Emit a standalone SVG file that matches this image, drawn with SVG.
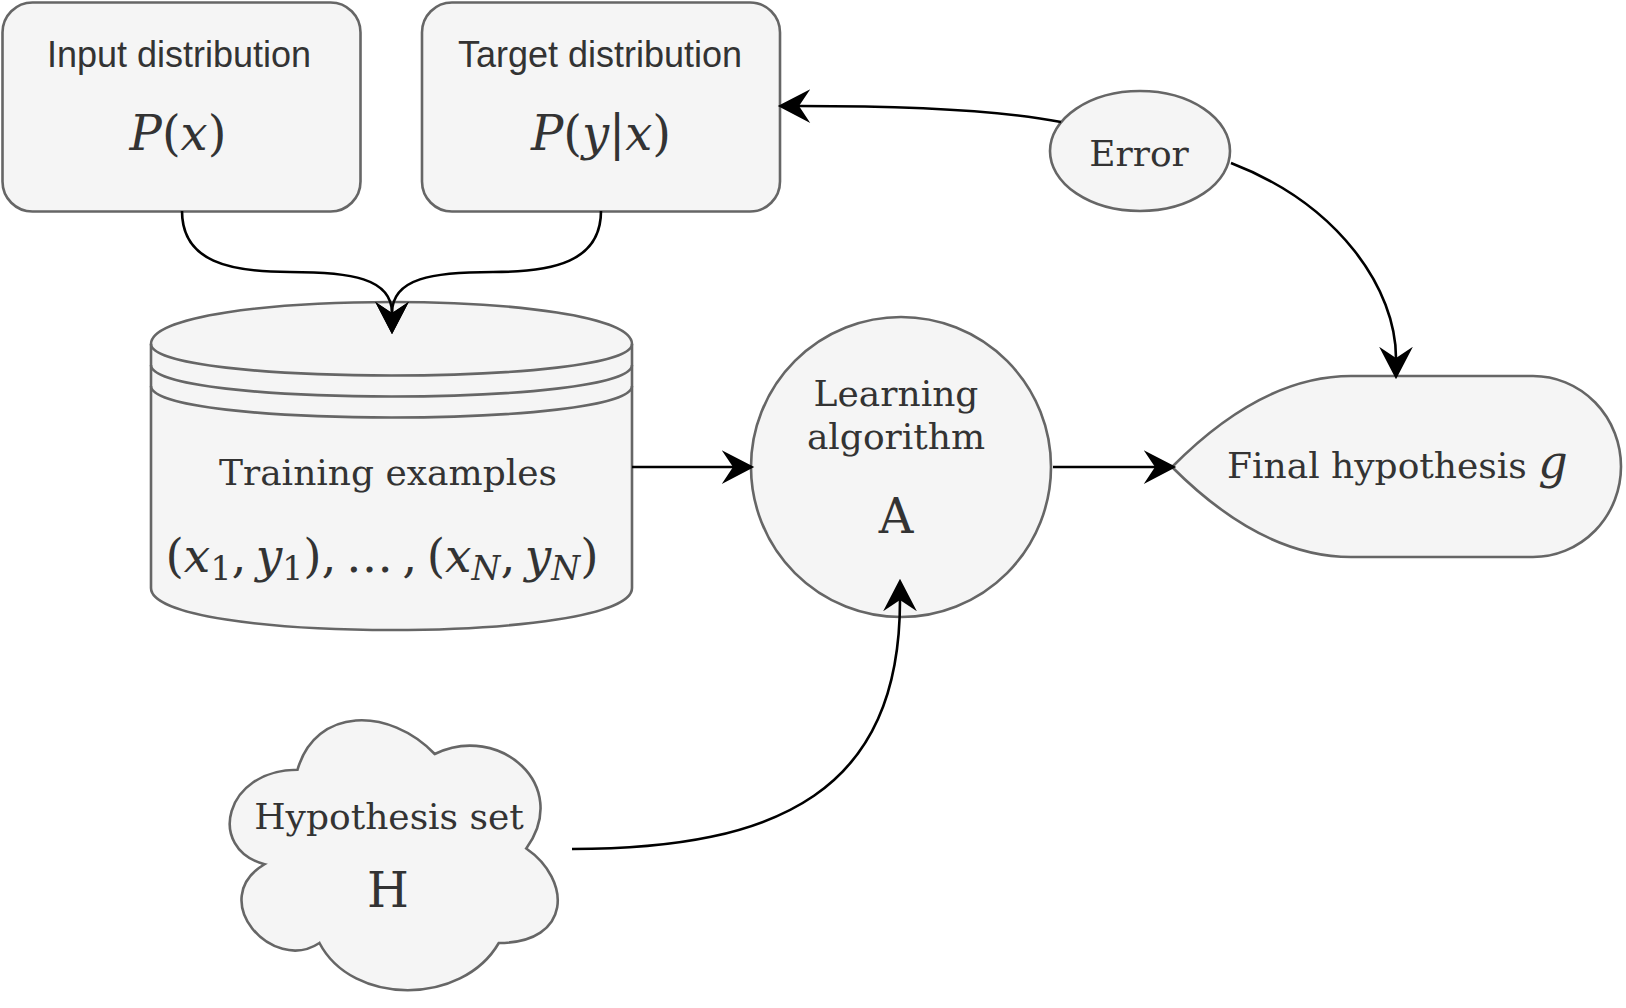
<svg xmlns="http://www.w3.org/2000/svg" width="1626" height="1008" viewBox="0 0 1626 1008">
<style>
.node{fill:#f5f5f5;stroke:#666666;stroke-width:2.6}
.line{fill:none;stroke:#666666;stroke-width:2.6}
.edge{fill:none;stroke:#000000;stroke-width:2.6;marker-end:url(#arrow)}
.sans{font-family:"Liberation Sans",Arial,sans-serif;font-size:36px;fill:#333333;text-anchor:middle}
.serif{font-family:"DejaVu Serif",serif;font-size:36px;fill:#333333;text-anchor:middle}
.math{font-family:"DejaVu Serif",serif;font-size:48px;fill:#333333;text-anchor:middle}
.it{font-style:italic}
</style>
<defs>
<marker id="arrow" markerUnits="userSpaceOnUse" markerWidth="40" markerHeight="40" viewBox="-12 -16 32 32" refX="0" refY="0" orient="auto" overflow="visible">
<path d="M17,0 L-9,-13.5 L0,0 L-9,13.5 Z" fill="#000000"/>
</marker>
</defs>

<g id="input-distribution">
<rect class="node" x="2.5" y="2.5" width="358" height="209" rx="30" ry="30"/>
<text class="sans" x="179" y="67">Input distribution</text>
<text class="math" x="178" y="150"><tspan class="it">P</tspan>(<tspan class="it">x</tspan>)</text>
</g>

<g id="target-distribution">
<rect class="node" x="422" y="2.5" width="358" height="209" rx="30" ry="30"/>
<text class="sans" x="600" y="67">Target distribution</text>
<text class="math" x="601" y="150"><tspan class="it">P</tspan>(<tspan class="it">y</tspan>|<tspan class="it">x</tspan>)</text>
</g>

<g id="error">
<ellipse class="node" cx="1140" cy="151" rx="90" ry="60"/>
<text class="serif" x="1139" y="166">Error</text>
</g>

<g id="training-examples">
<path class="node" d="M151 344 C151 288 632 288 632 344 L632 588 C632 644 151 644 151 588 Z"/>
<path class="line" d="M151 344 C151 386 632 386 632 344 M151 365 C151 407 632 407 632 365 M151 386 C151 428 632 428 632 386"/>
<text class="serif" x="388" y="485">Training examples</text>
<text class="math" style="font-size:47px" x="382" y="572">(<tspan class="it">x</tspan><tspan font-size="33" dy="8">1</tspan><tspan dy="-8">,&#8201;</tspan><tspan class="it">y</tspan><tspan font-size="33" dy="8">1</tspan><tspan dy="-8">),&#8201;…&#8201;,&#8201;(</tspan><tspan class="it">x</tspan><tspan class="it" font-size="33" dy="8">N</tspan><tspan dy="-8">,&#8201;</tspan><tspan class="it">y</tspan><tspan class="it" font-size="33" dy="8">N</tspan><tspan dy="-8">)</tspan></text>
</g>

<g id="learning-algorithm">
<circle class="node" cx="901" cy="467" r="150"/>
<text class="serif" x="896" y="406">Learning</text>
<text class="serif" x="896" y="449">algorithm</text>
<text class="math" x="896" y="533">A</text>
</g>

<g id="final-hypothesis">
<path class="node" d="M1172 467 Q1262 376 1351 376 L1533 376 A88 90.5 0 0 1 1533 557 L1351 557 Q1262 557 1172 467 Z"/>
<text class="serif" style="text-anchor:start" x="1227" y="478">Final hypothesis <tspan class="it" font-size="46">g</tspan></text>
</g>

<g id="hypothesis-set">
<path class="node" d="M297.5 769.75 C224.3 769.75 206 848.5 264.56 864.25 C206 898.9 271.88 974.5 319.46 943 C352.4 1006 462.2 1006 498.8 943 C572 943 572 880 526.25 848.5 C572 785.5 498.8 722.5 434.75 754 C389 706.75 315.8 706.75 297.5 769.75 Z"/>
<text class="serif" x="389" y="829">Hypothesis set</text>
<text class="math" x="388" y="907">H</text>
</g>

<g id="connectors">
<path class="edge" d="M182 211 C182 262 230 272 290 272 C350 272 392 278 392 313"/>
<path class="edge" d="M601 211 C601 262 553 272 493 272 C433 272 392 278 392 313"/>
<path class="edge" d="M1061 122 C1000 110 900 106 799 106"/>
<path class="edge" d="M1231 163 C1340 205 1396 290 1396 358"/>
<path class="edge" d="M632 467 L733 467"/>
<path class="edge" d="M1053 467 L1155 467"/>
<path class="edge" d="M572 849 C780 849 900 790 900 600"/>
</g>
</svg>
